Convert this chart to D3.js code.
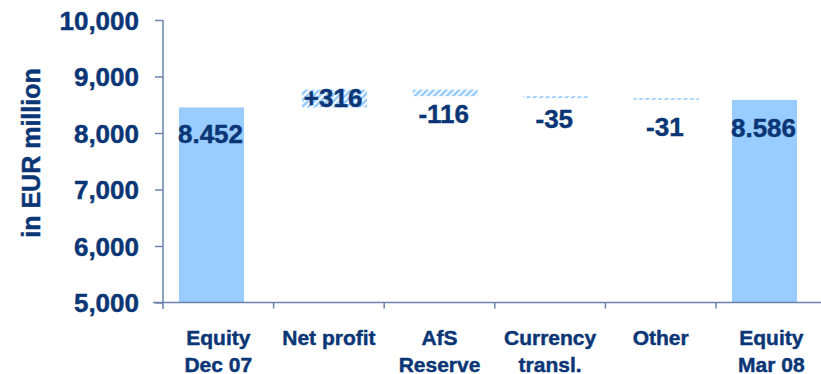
<!DOCTYPE html>
<html>
<head>
<meta charset="utf-8">
<script src="https://cdn.jsdelivr.net/npm/d3@7"></script>
<style>
  html, body { margin: 0; padding: 0; background: #fff; }
  svg { display: block; }
  text { font-family: "Liberation Sans", Arial, sans-serif; font-weight: bold; fill: #0b3676; stroke: #0b3676; stroke-width: 0.45px; }
</style>
</head>
<body>
<svg id="chart" width="821" height="374"></svg>
<script>
// Equity bridge, EUR million
const categories = [["Equity", "Dec 07"], ["Net profit"], ["AfS", "Reserve"], ["Currency", "transl."], ["Other"], ["Equity", "Mar 08"]];
const kinds = ["total", "delta", "delta", "delta", "delta", "total"];
const values = [8452, 316, -116, -35, -31, 8586];
const valueLabels = ["8.452", "+316", "-116", "-35", "-31", "8.586"];
const yTicks = [5000, 6000, 7000, 8000, 9000, 10000];
const yTitle = "in EUR million";

const svg = d3.select("#chart");
const ink = "#0b3676", axisColor = "#6d83ad", barColor = "#99ccff";

const x = d3.scaleBand().domain(d3.range(categories.length)).range([163, 826.6]).padding(0);
const y = d3.scaleLinear().domain([5000, 10000]).range([302.5, 20]);

// running totals for the floating segments
let run = 0;
const bars = values.map((v, i) => {
  if (kinds[i] === "total") { run = v; return { i, lo: 5000, hi: v, v }; }
  const start = run; run += v;
  return { i, lo: Math.min(start, run), hi: Math.max(start, run), v };
});

// diagonal hatch used by the change bars
const defs = svg.append("defs");
const pat = defs.append("pattern").attr("id", "hatch").attr("patternUnits", "userSpaceOnUse")
  .attr("width", 4.5).attr("height", 4.5).attr("patternTransform", "rotate(45)");
pat.append("rect").attr("width", 4.5).attr("height", 4.5).attr("fill", "#fff");
pat.append("rect").attr("width", 2.6).attr("height", 4.5).attr("fill", barColor);

const barW = 65;
const barOffset = k => k === "total" ? 16 : 28.5;

svg.append("g").selectAll("rect").data(bars).join("rect")
  .attr("x", d => x(d.i) + barOffset(kinds[d.i]))
  .attr("width", barW)
  .attr("y", d => y(d.hi))
  .attr("height", d => Math.max(1.5, y(d.lo) - y(d.hi)))
  .attr("fill", d => kinds[d.i] === "total" ? barColor : "url(#hatch)");

// y axis
const yAxis = svg.append("g").attr("transform", "translate(163,0)")
  .call(d3.axisLeft(y).tickValues(yTicks).tickSize(8).tickFormat(d3.format(",")));
yAxis.select(".domain").remove();
yAxis.append("line").attr("x1", 0).attr("x2", 0).attr("y1", y(10000)).attr("y2", 309)
  .attr("stroke", axisColor).attr("stroke-width", 1.5);
yAxis.selectAll(".tick line").attr("stroke", axisColor).attr("stroke-width", 1.5);
yAxis.selectAll(".tick text").attr("x", -24).attr("dy", "0.36em")
  .style("font-size", "26px").attr("fill", ink);

// x axis line and separators
const xg = svg.append("g");
xg.append("line").attr("x1", 153).attr("x2", 821).attr("y1", 302.5).attr("y2", 302.5)
  .attr("stroke", axisColor).attr("stroke-width", 1.5);
xg.selectAll("line.sep").data(d3.range(1, categories.length)).join("line").attr("class", "sep")
  .attr("x1", i => x(i)).attr("x2", i => x(i)).attr("y1", 302.5).attr("y2", 308.5)
  .attr("stroke", axisColor).attr("stroke-width", 1.5);

// category labels
const cat = svg.append("g").selectAll("text").data(categories).join("text")
  .attr("text-anchor", "middle").style("font-size", "21px")
  .attr("transform", (d, i) => `translate(${x(i) + x.bandwidth() / 2},345)`);
cat.selectAll("tspan").data(d => d).join("tspan")
  .attr("x", 0).attr("y", (d, j) => j * 26.5).text(d => d);

// value labels
const labelDy = [36, 0, 27, 29.5, 36, 37];
svg.append("g").selectAll("text").data(bars).join("text")
  .attr("text-anchor", "middle").style("font-size", "26px")
  .attr("x", d => x(d.i) + barOffset(kinds[d.i]) + barW / 2 - (kinds[d.i] === "total" ? 1 : 1.5))
  .attr("y", d => (kinds[d.i] === "total" ? y(d.hi) : y(d.lo)) + labelDy[d.i])
  .text((d, i) => valueLabels[i]);

// axis title
svg.append("text").attr("text-anchor", "middle").style("font-size", "25px")
  .attr("transform", "translate(40,153) rotate(-90)").text(yTitle);
</script>
</body>
</html>
